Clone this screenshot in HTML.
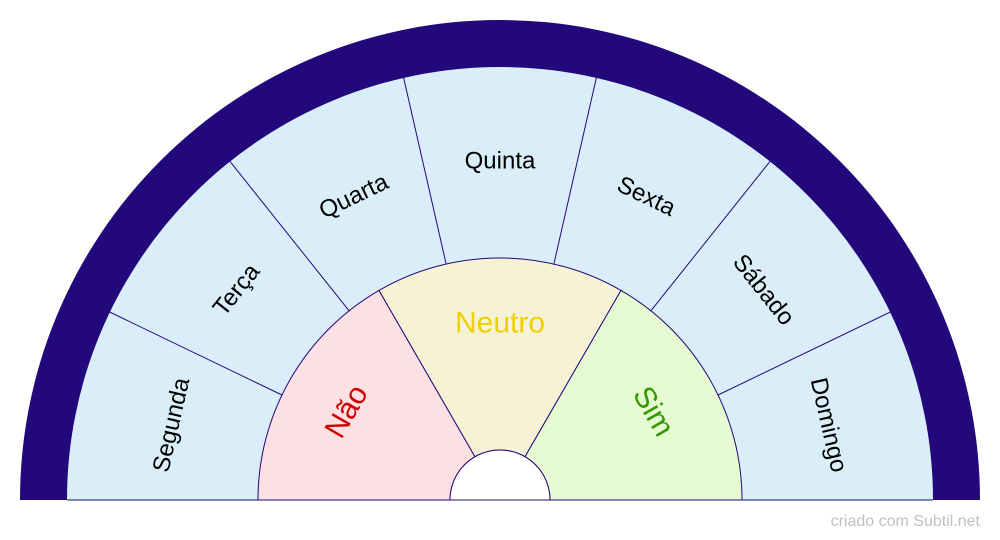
<!DOCTYPE html>
<html><head><meta charset="utf-8"><style>html,body{margin:0;padding:0;background:#fff;}svg{display:block}</style></head>
<body>
<svg width="1000" height="540" viewBox="0 0 1000 540" xmlns="http://www.w3.org/2000/svg" font-family="Liberation Sans, Arial, sans-serif">
<path d="M67,500 A433,433 0 0 1 933,500 Z" fill="#daeef9" stroke="none"/>
<g stroke="#22087a" stroke-width="1">
<line x1="281.97" y1="395" x2="109.88" y2="312.13"/>
<line x1="349.12" y1="310.8" x2="230.03" y2="161.47"/>
<line x1="446.15" y1="264.07" x2="403.65" y2="77.86"/>
<line x1="553.85" y1="264.07" x2="596.35" y2="77.86"/>
<line x1="650.88" y1="310.8" x2="769.97" y2="161.47"/>
<line x1="718.03" y1="395" x2="890.12" y2="312.13"/>
</g>
<path d="M258,500 A242,242 0 0 1 379,290.42 L475,456.7 A50,50 0 0 0 450,500 Z" fill="#fde0e3" stroke="#22087a" stroke-width="1"/>
<path d="M379,290.42 A242,242 0 0 1 621,290.42 L525,456.7 A50,50 0 0 0 475,456.7 Z" fill="#f6f2d5" stroke="#22087a" stroke-width="1"/>
<path d="M621,290.42 A242,242 0 0 1 742,500 L550,500 A50,50 0 0 0 525,456.7 Z" fill="#e6fad1" stroke="#22087a" stroke-width="1"/>
<path d="M450,500 A50,50 0 0 1 550,500 Z" fill="#fff" stroke="none"/>
<path d="M450,500 A50,50 0 0 1 550,500" fill="none" stroke="#22087a" stroke-width="1"/>
<line x1="67" y1="500" x2="933" y2="500" stroke="#22087a" stroke-width="1"/>
<path d="M20,500 A480,480 0 0 1 980,500 L933,500 A433,433 0 0 0 67,500 Z" fill="#22087a"/>
<g font-size="24" fill="#000" text-anchor="middle" dominant-baseline="central">
<text transform="translate(171.45,425) rotate(-77.14)">Segunda</text>
<text transform="translate(236.52,289.9) rotate(-51.43)">Terça</text>
<text transform="translate(353.78,196.37) rotate(-25.71)">Quarta</text>
<text transform="translate(500,161) rotate(0)">Quinta</text>
<text transform="translate(646.22,196.37) rotate(25.71)">Sexta</text>
<text transform="translate(763.48,289.9) rotate(51.43)">Sábado</text>
<text transform="translate(828.55,425) rotate(77.14)">Domingo</text>
</g>
<g font-size="30" text-anchor="middle" dominant-baseline="central">
<text transform="translate(346.7,411.5) rotate(-60)" fill="#cc0000">Não</text>
<text transform="translate(500,323)" fill="#f0d000">Neutro</text>
<text transform="translate(653.3,411.5) rotate(60)" fill="#339900">Sim</text>
</g>
<text x="980" y="526" font-size="16" fill="#c0c0c0" text-anchor="end">criado com Subtil.net</text>
</svg>
</body></html>
